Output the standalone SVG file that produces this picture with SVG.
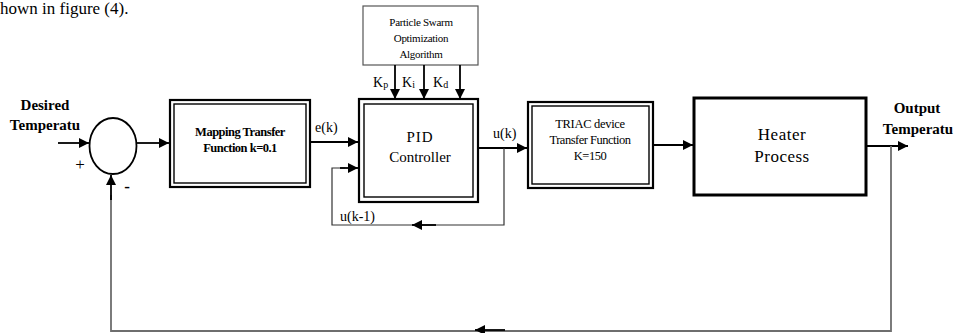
<svg xmlns="http://www.w3.org/2000/svg" width="962" height="333" viewBox="0 0 962 333">
<defs>
<marker id="ah" markerWidth="10" markerHeight="10" refX="10" refY="5" orient="auto" markerUnits="userSpaceOnUse">
<path d="M0,0 L10,5 L0,10 Z" fill="#000"/>
</marker>
<style>
text{font-family:"Liberation Serif","Times New Roman",serif;fill:#000}
.ln{stroke:#000;stroke-width:1.8;fill:none}
.fb{stroke:#6e6e6e;stroke-width:1.8;fill:none}
.thin{stroke:#333;stroke-width:1.2;fill:none}
.o{fill:#fff;stroke:#000;stroke-width:2.2}
.i{fill:none;stroke:#000;stroke-width:1.4}
.c{text-anchor:middle}
</style>
</defs>
<rect width="962" height="333" fill="#fff"/>
<text x="0" y="14" font-size="17" font-family="Liberation Serif, serif">hown in figure (4).</text>

<g id="sum">
<ellipse cx="113" cy="146" rx="23.5" ry="28" fill="#fff" stroke="#000" stroke-width="1.8"/>
<text x="80" y="170" font-size="17" class="c">+</text>
<text x="127" y="192" font-size="17" class="c" font-weight="bold">-</text>
</g>
<g id="input">
<text x="45" y="110" font-size="15" font-weight="bold" class="c">Desired</text>
<text x="45" y="130" font-size="15" font-weight="bold" class="c">Temperatu</text>
</g>
<g id="mapping">
<rect class="o" x="170" y="100" width="140" height="87"/>
<rect class="i" x="174" y="104" width="132" height="79"/>
<text x="240" y="136" font-size="12.5" font-weight="bold" class="c" letter-spacing="-0.5">Mapping Transfer</text>
<text x="240" y="152" font-size="12.5" font-weight="bold" class="c" letter-spacing="-0.5">Function k=0.1</text>
</g>
<g id="pso">
<rect x="363" y="6" width="115" height="59" fill="#fff" stroke="#555" stroke-width="1.2"/>
<text x="421" y="26" font-size="11" class="c" letter-spacing="-0.3">Particle Swarm</text>
<text x="421" y="42" font-size="11" class="c" letter-spacing="-0.3">Optimization</text>
<text x="421" y="58" font-size="11" class="c" letter-spacing="-0.3">Algorithm</text>
</g>
<g id="pid">
<rect class="o" x="359" y="99" width="119" height="103"/>
<rect class="i" x="364" y="104" width="109" height="93"/>
<text x="420" y="142" font-size="15" class="c" letter-spacing="1">PID</text>
<text x="420" y="162" font-size="15" class="c">Controller</text>
</g>
<g id="triac">
<rect class="o" x="528" y="102" width="125" height="86"/>
<rect class="i" x="532" y="106" width="117" height="78"/>
<text x="590" y="128" font-size="12.5" class="c" letter-spacing="-0.3">TRIAC device</text>
<text x="590" y="144" font-size="12.5" class="c" letter-spacing="-0.5">Transfer Function</text>
<text x="590" y="160" font-size="12.5" class="c" letter-spacing="-0.5">K=150</text>
</g>
<g id="heater">
<rect x="694" y="98" width="172" height="97" fill="#fff" stroke="#000" stroke-width="3"/>
<text x="782" y="140" font-size="17" class="c" letter-spacing="0.5">Heater</text>
<text x="782" y="162" font-size="17" class="c" letter-spacing="0.5">Process</text>
</g>
<g id="output">
<text x="917" y="113" font-size="15" font-weight="bold" class="c">Output</text>
<text x="918" y="134" font-size="15" font-weight="bold" class="c">Temperatu</text>
</g>

<g id="connectors">
<line class="ln" x1="58" y1="143" x2="89" y2="143" marker-end="url(#ah)"/>
<line class="ln" x1="137" y1="143" x2="169" y2="143" marker-end="url(#ah)"/>
<line class="ln" x1="310" y1="142" x2="358" y2="142" marker-end="url(#ah)"/>
<line class="ln" x1="478" y1="148" x2="527" y2="148" marker-end="url(#ah)"/>
<line class="ln" x1="653" y1="145" x2="693" y2="145" marker-end="url(#ah)"/>
<line class="ln" x1="866" y1="146" x2="908" y2="146" marker-end="url(#ah)"/>
<line class="ln" x1="395" y1="65" x2="395" y2="99" marker-end="url(#ah)"/>
<line class="ln" x1="424" y1="65" x2="424" y2="99" marker-end="url(#ah)"/>
<line class="ln" x1="460" y1="65" x2="460" y2="99" marker-end="url(#ah)"/>
<polyline class="thin" points="504,148 504,225 332,225 332,168 345,168"/>
<line class="ln" x1="340" y1="168" x2="358" y2="168" marker-end="url(#ah)"/>
<line class="ln" x1="436" y1="225" x2="412" y2="225" marker-end="url(#ah)"/>
<polyline class="fb" points="891,146 891,331 111,331 111,195"/>
<line class="ln" x1="111" y1="200" x2="111" y2="175" marker-end="url(#ah)"/>
<line class="ln" x1="505" y1="330" x2="475" y2="330" marker-end="url(#ah)"/>
</g>
<g id="labels">
<text x="315" y="132" font-size="14">e(k)</text>
<text x="493" y="138" font-size="14">u(k)</text>
<text x="340" y="221" font-size="14">u(k-1)</text>
<text x="373" y="87" font-size="14">K<tspan font-size="10" dy="1">p</tspan></text>
<text x="402" y="87" font-size="14">K<tspan font-size="10" dy="1">i</tspan></text>
<text x="433" y="87" font-size="14">K<tspan font-size="10" dy="1">d</tspan></text>
</g>
</svg>
